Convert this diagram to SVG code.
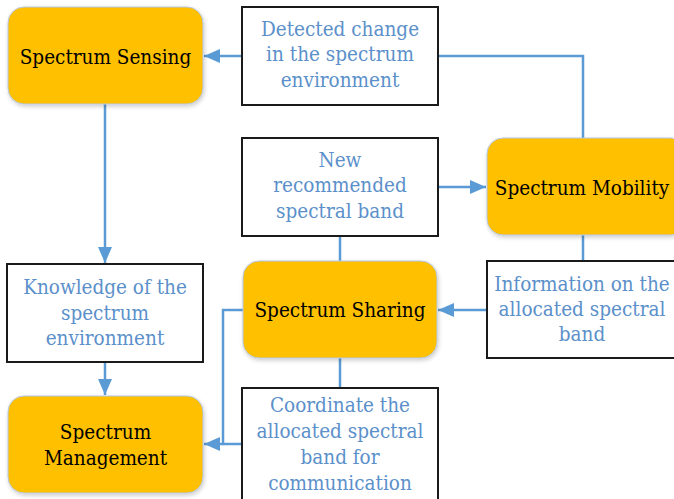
<svg xmlns="http://www.w3.org/2000/svg" width="674" height="499" viewBox="0 0 674 499">
  <style>
    .proc { fill: #FFC000; stroke: #B4C7E7; stroke-width: 1; }
    .info { fill: #FFFFFF; stroke: #1A1A1A; stroke-width: 2; }
    text { font-family: "DejaVu Serif Condensed", "DejaVu Serif", serif; font-stretch: condensed; text-anchor: middle; }
    .ptxt { font-size: 20.5px; fill: #000000; }
    .itxt { font-size: 20.5px; fill: #5B90CA; }
    .wire { fill: none; stroke: #5B9BD5; stroke-width: 2.5; }
  </style>
  <defs>
    <marker id="ah" viewBox="0 0 16 14" refX="16" refY="7" markerWidth="16" markerHeight="14" markerUnits="userSpaceOnUse" orient="auto">
      <path d="M0,0 L16,7 L0,14 z" fill="#5B9BD5"/>
    </marker>
    <filter id="shadow" x="-10%" y="-10%" width="125%" height="130%">
      <feDropShadow dx="1" dy="2" stdDeviation="2" flood-color="#000" flood-opacity="0.2"/>
    </filter>
  </defs>

  <!-- connectors -->
  <g id="connectors">
    <path class="wire" d="M242,56 L204,56" marker-end="url(#ah)"/>
    <path class="wire" d="M438,56 L583,56 L583,138"/>
    <path class="wire" d="M105,104 L105,263" marker-end="url(#ah)"/>
    <path class="wire" d="M438,187 L486,187" marker-end="url(#ah)"/>
    <path class="wire" d="M340,236 L340,261"/>
    <path class="wire" d="M583,235 L583,260"/>
    <path class="wire" d="M486,310 L438,310" marker-end="url(#ah)"/>
    <path class="wire" d="M340,358 L340,388"/>
    <path class="wire" d="M105,362 L105,395" marker-end="url(#ah)"/>
    <path class="wire" d="M243,310 L223,310 L223,444 L204,444" marker-end="url(#ah)"/>
    <path class="wire" d="M242,444 L223,444"/>
  </g>

  <!-- process nodes -->
  <g id="spectrum-sensing">
    <rect class="proc" x="8" y="7" width="195" height="97" rx="16" filter="url(#shadow)"/>
    <text class="ptxt" x="105.5" y="63.5">Spectrum Sensing</text>
  </g>
  <g id="spectrum-mobility">
    <rect class="proc" x="487" y="138" width="200" height="97" rx="16" filter="url(#shadow)"/>
    <text class="ptxt" x="582" y="194.5">Spectrum Mobility</text>
  </g>
  <g id="spectrum-sharing">
    <rect class="proc" x="243" y="261" width="194" height="97" rx="16" filter="url(#shadow)"/>
    <text class="ptxt" x="340" y="317">Spectrum Sharing</text>
  </g>
  <g id="spectrum-management">
    <rect class="proc" x="8" y="396" width="195" height="97" rx="16" filter="url(#shadow)"/>
    <text class="ptxt" x="105.5" y="438.5">Spectrum</text>
    <text class="ptxt" x="105.5" y="464.5">Management</text>
  </g>

  <!-- information boxes -->
  <g id="detected-change">
    <rect class="info" x="242" y="7" width="196" height="98"/>
    <text class="itxt" x="340" y="35.5">Detected change</text>
    <text class="itxt" x="340" y="61">in the spectrum</text>
    <text class="itxt" x="340" y="86.5">environment</text>
  </g>
  <g id="new-band">
    <rect class="info" x="242" y="138" width="196" height="98"/>
    <text class="itxt" x="340" y="166.5">New</text>
    <text class="itxt" x="340" y="192">recommended</text>
    <text class="itxt" x="340" y="217.5">spectral band</text>
  </g>
  <g id="allocated-info">
    <rect class="info" x="487" y="261" width="200" height="97"/>
    <text class="itxt" x="582" y="290.5">Information on the</text>
    <text class="itxt" x="582" y="315.5">allocated spectral</text>
    <text class="itxt" x="582" y="341">band</text>
  </g>
  <g id="knowledge">
    <rect class="info" x="7" y="264" width="196" height="98"/>
    <text class="itxt" x="105" y="294">Knowledge of the</text>
    <text class="itxt" x="105" y="319.5">spectrum</text>
    <text class="itxt" x="105" y="345">environment</text>
  </g>
  <g id="coordinate">
    <rect class="info" x="242" y="388" width="196" height="118"/>
    <text class="itxt" x="340" y="411.5">Coordinate the</text>
    <text class="itxt" x="340" y="437.5">allocated spectral</text>
    <text class="itxt" x="340" y="463.5">band for</text>
    <text class="itxt" x="340" y="489.5">communication</text>
  </g>
</svg>
